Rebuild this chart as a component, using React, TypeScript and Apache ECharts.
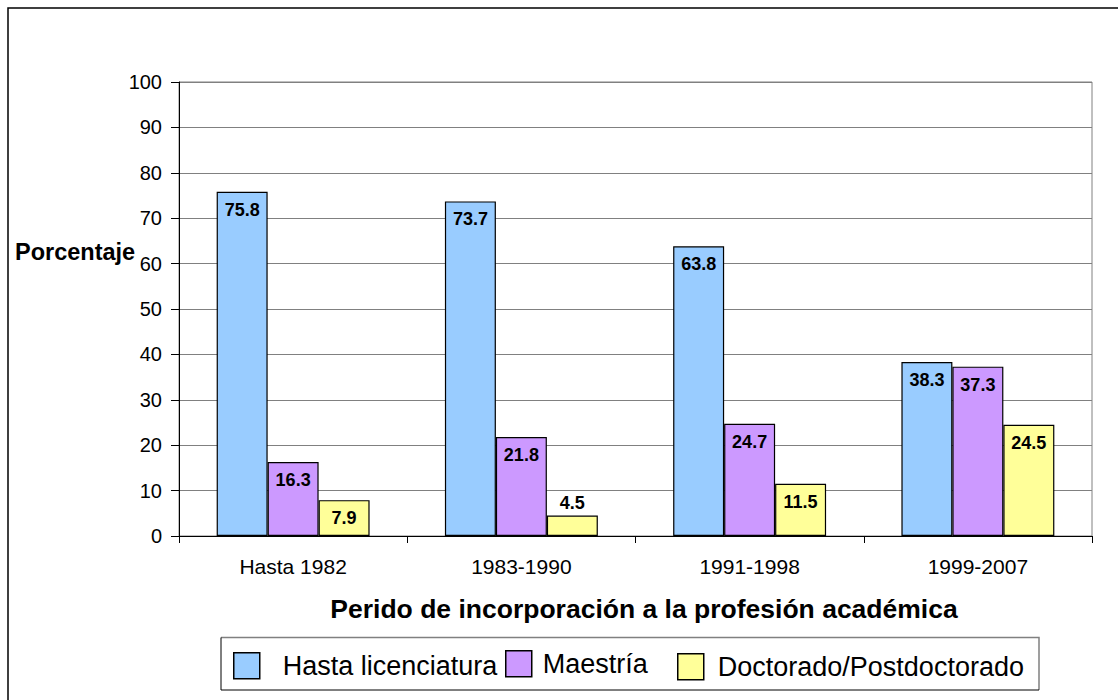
import React, { useEffect, useRef } from "react";
import * as echarts from "echarts";

const categories = ["Hasta 1982", "1983-1990", "1991-1998", "1999-2007"];
const licenciatura = [75.8, 73.7, 63.8, 38.3];
const maestria = [16.3, 21.8, 24.7, 37.3];
const doctorado = [7.9, 4.5, 11.5, 24.5];
const seriesNames = ["Hasta licenciatura", "Maestría", "Doctorado/Postdoctorado"];
const colors = ["#99CCFF", "#CC99FF", "#FFFF99"];
const yTicks = { min: 0, max: 100, interval: 10 };

const FONT = "'Liberation Sans', Arial, Helvetica, sans-serif";

export default function App() {
  const ref = useRef<HTMLDivElement>(null);

  useEffect(() => {
    document.body.style.margin = "0";
    if (!ref.current) return;
    const chart = echarts.init(ref.current, null, { renderer: "svg" });

    const mkData = (arr: number[]) =>
      arr.map((v) =>
        v < 6 ? { value: v, label: { position: "top", distance: 4 } } : v
      );

    const allData = [licenciatura, maestria, doctorado];

    const legendDefs = [
      { left: 233, top: 652, pad: 18 },
      { left: 505, top: 650, pad: 6 },
      { left: 677, top: 653, pad: 9 },
    ];

    chart.setOption({
      animation: false,
      backgroundColor: "#ffffff",
      textStyle: { fontFamily: FONT },
      grid: {
        left: 179,
        top: 82,
        width: 913,
        height: 454,
        show: true,
        borderColor: "#808080",
        borderWidth: 1,
        backgroundColor: "transparent",
      },
      legend: legendDefs.map((d, i) => ({
        data: [seriesNames[i]],
        left: d.left,
        top: d.top,
        padding: 0,
        itemWidth: 26,
        itemHeight: 26,
        icon: "rect",
        itemStyle: { borderColor: "#000", borderWidth: 1.5 },
        textStyle: {
          fontFamily: FONT,
          fontSize: 27,
          color: "#000",
          padding: [0, 0, 0, d.pad],
        },
        selectedMode: false,
      })),
      xAxis: {
        type: "category",
        data: categories,
        axisLine: { show: true, lineStyle: { color: "#000", width: 1 } },
        axisTick: { show: true, length: 7, lineStyle: { color: "#000" } },
        axisLabel: {
          fontFamily: FONT,
          fontSize: 21,
          color: "#000",
          margin: 20,
        },
      },
      yAxis: {
        type: "value",
        min: yTicks.min,
        max: yTicks.max,
        interval: yTicks.interval,
        axisLine: { show: true, lineStyle: { color: "#000", width: 1 } },
        axisTick: { show: true, length: 8, lineStyle: { color: "#000" } },
        axisLabel: {
          fontFamily: FONT,
          fontSize: 20,
          color: "#000",
          margin: 17,
        },
        splitLine: { show: true, lineStyle: { color: "#808080", width: 1 } },
      },
      series: allData.map((arr, i) => ({
        name: seriesNames[i],
        type: "bar",
        data: mkData(arr),
        barGap: "0%",
        barCategoryGap: "33%",
        itemStyle: { color: colors[i], borderColor: "#000", borderWidth: 1.2 },
        label: {
          show: true,
          position: "insideTop",
          distance: 9,
          fontFamily: FONT,
          fontSize: 18,
          fontWeight: "bold",
          color: "#000",
        },
      })),
      graphic: [
        {
          type: "polyline",
          shape: { points: [[8, 700], [8, 8], [1118, 8]] },
          style: { stroke: "#000", lineWidth: 1.5, fill: null },
          silent: true,
        },
        {
          type: "polyline",
          shape: { points: [[221, 637.5], [1039, 637.5], [1039, 690]] },
          style: { stroke: "#808080", lineWidth: 1.5, fill: null },
          silent: true,
        },
        {
          type: "polyline",
          shape: { points: [[221, 637.5], [221, 690], [1039, 690]] },
          style: { stroke: "#000", lineWidth: 1, fill: null },
          silent: true,
        },
        {
          type: "text",
          x: 15,
          y: 252,
          style: {
            text: "Porcentaje",
            fontFamily: FONT,
            fontSize: 23.5,
            fontWeight: "bold",
            fill: "#000",
            textAlign: "left",
            textVerticalAlign: "middle",
          },
        },
        {
          type: "text",
          x: 644,
          y: 609,
          style: {
            text: "Perido de incorporación a la profesión académica",
            fontFamily: FONT,
            fontSize: 26.5,
            fontWeight: "bold",
            fill: "#000",
            textAlign: "center",
            textVerticalAlign: "middle",
          },
        },
      ],
    });

    return () => chart.dispose();
  }, []);

  return <div ref={ref} style={{ width: 1118, height: 700 }} />;
}
